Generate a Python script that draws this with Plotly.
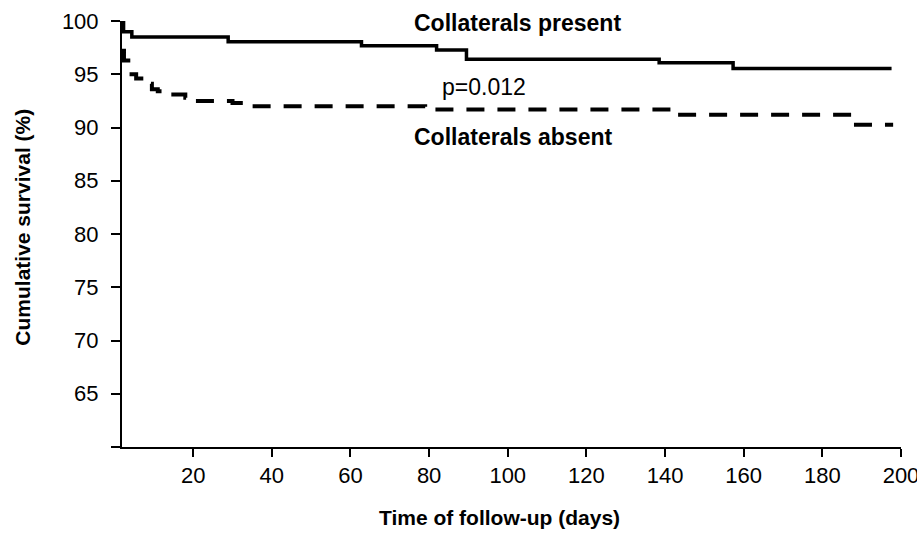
import plotly.graph_objects as go

# Kaplan-Meier step data (time in days, cumulative survival in %)
present_days = [1.9, 2.3, 4.4, 28.9, 62.8, 81.9, 89.5, 138.5, 157.3, 197.6]
present_surv = [99.9, 99.0, 98.5, 98.06, 97.68, 97.28, 96.41, 96.09, 95.53, 95.53]

absent_days = [1.9, 2.4, 3.5, 5.5, 7.5, 9.5, 11, 14, 18, 20, 30, 35, 79, 142, 188, 198]
absent_surv = [97.2, 96.3, 95.0, 94.6, 94.1, 93.6, 93.4, 93.1, 92.8, 92.5, 92.3, 92.0,
               91.7, 91.2, 90.25, 90.25]

x_ticks = [20, 40, 60, 80, 100, 120, 140, 160, 180, 200]
y_ticks = [60, 65, 70, 75, 80, 85, 90, 95, 100]
y_labels = ["", "65", "70", "75", "80", "85", "90", "95", "100"]

FONT = "Liberation Sans, Arial, sans-serif"

fig = go.Figure()
fig.add_trace(go.Scatter(
    x=present_days, y=present_surv, mode="lines", line_shape="hv",
    line=dict(color="black", width=3.5), showlegend=False))
fig.add_trace(go.Scatter(
    x=absent_days, y=absent_surv, mode="lines", line_shape="hv",
    line=dict(color="black", width=4, dash="18px,13px"), showlegend=False))

fig.add_annotation(x=102.6, y=99.78, xref="x", yref="y", text="<b>Collaterals present</b>",
                   showarrow=False, font=dict(family=FONT, size=23, color="black"))
fig.add_annotation(x=94, y=93.84, xref="x", yref="y", text="p=0.012",
                   showarrow=False, font=dict(family=FONT, size=23, color="black"))
fig.add_annotation(x=101.3, y=89.07, xref="x", yref="y", text="<b>Collaterals absent</b>",
                   showarrow=False, font=dict(family=FONT, size=23, color="black"))

# axis titles placed in paper coordinates
fig.add_annotation(x=0.485, y=-0.166, xref="paper", yref="paper",
                   xanchor="center", yanchor="middle",
                   text="<b>Time of follow-up (days)</b>", showarrow=False,
                   font=dict(family=FONT, size=21, color="black"))
fig.add_annotation(x=-0.127, y=0.515, xref="paper", yref="paper",
                   xanchor="center", yanchor="middle",
                   text="<b>Cumulative survival (%)</b>", showarrow=False, textangle=-90,
                   font=dict(family=FONT, size=21, color="black"))

fig.update_layout(
    width=917, height=549,
    margin=dict(l=122, r=16, t=21, b=102, autoexpand=False),
    paper_bgcolor="white", plot_bgcolor="white",
    font=dict(family=FONT, size=22, color="black"),
    xaxis=dict(range=[1.9, 200], tickvals=x_ticks, showgrid=False, zeroline=False,
               showline=True, linecolor="black", linewidth=2, automargin=False,
               ticklabeloverflow="allow",
               ticks="outside", ticklen=8, tickwidth=2, tickcolor="black"),
    yaxis=dict(range=[60, 100], tickvals=y_ticks, ticktext=y_labels, showgrid=False,
               zeroline=False, showline=True, linecolor="black", linewidth=2,
               automargin=False, ticklabelstandoff=8, ticklabeloverflow="allow",
               ticks="outside", ticklen=9, tickwidth=2, tickcolor="black"),
)

fig.write_html("out.html")
